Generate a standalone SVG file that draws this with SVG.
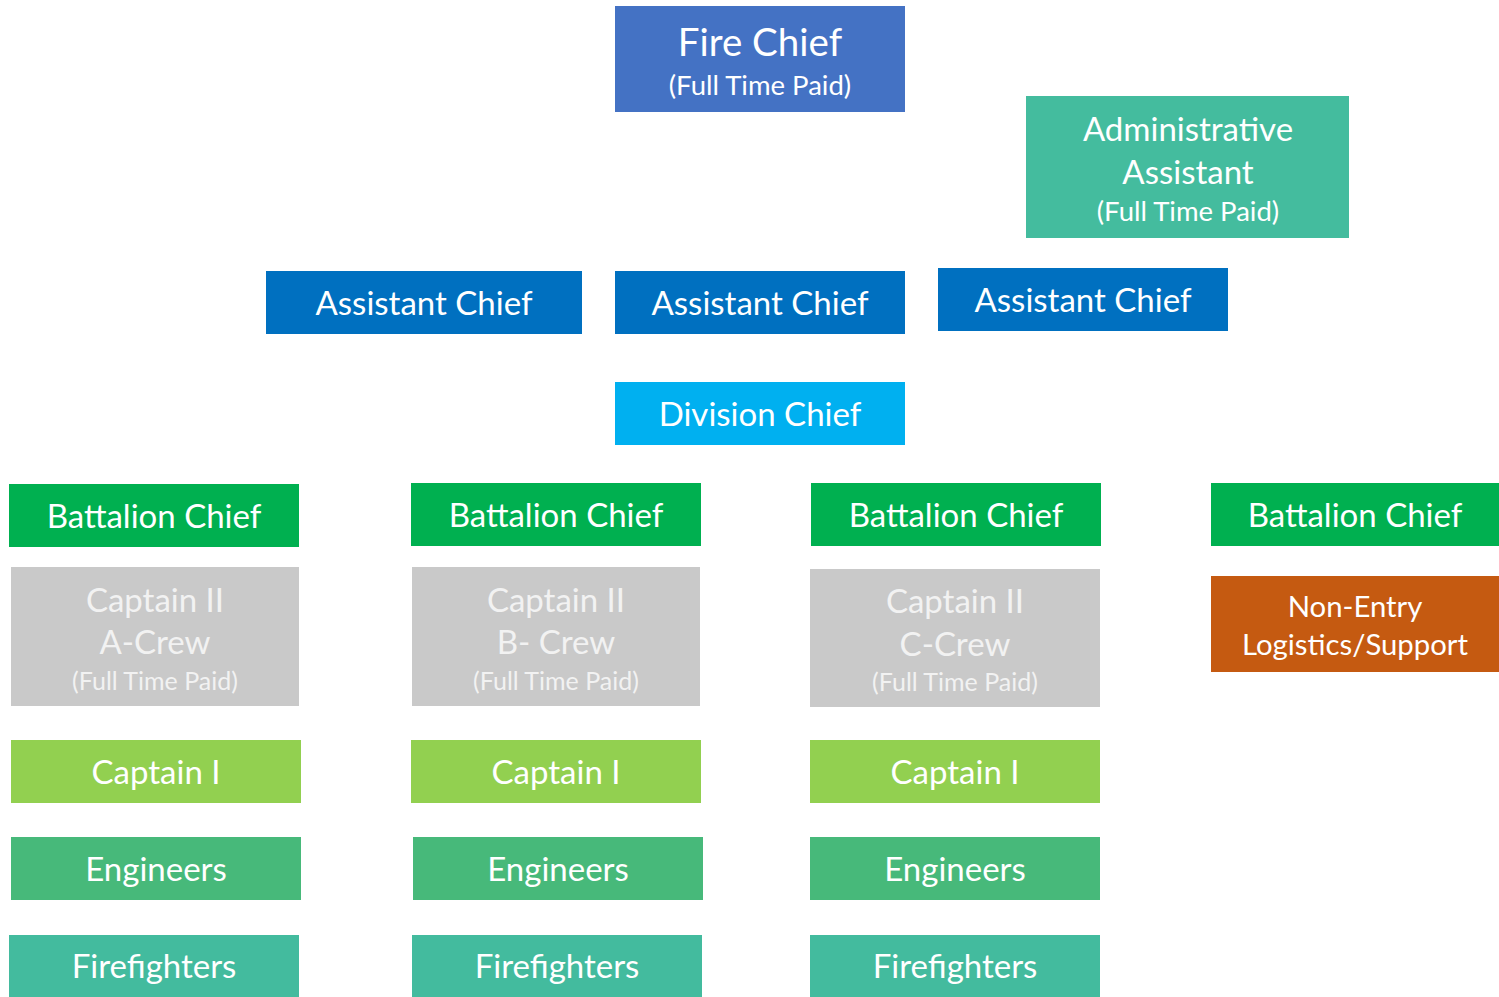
<svg xmlns="http://www.w3.org/2000/svg" width="1499" height="997" viewBox="0 0 1499 997">
<style>
text{font-family:Lato,"Open Sans","Liberation Sans",sans-serif;fill:#fff;text-anchor:middle;dominant-baseline:central}
.l{font-size:33px}
.s{font-size:27.5px}
.g text{fill:#f2f2f2}
.g .s{font-size:25px}
</style>
<rect width="1499" height="997" fill="#fff"/>
<g id="connectors"></g>
<g id="fire-chief"><rect x="615" y="6" width="290" height="106" fill="#4472C4"/><text x="760" y="41" font-size="38.5">Fire Chief</text><text x="760" y="84" class="s">(Full Time Paid)</text></g>
<g id="admin-assistant"><rect x="1026" y="96" width="323" height="142" fill="#44BC9E"/><text x="1188" y="128" class="l">Administrative</text><text x="1188" y="171" class="l">Assistant</text><text x="1188" y="210" class="s">(Full Time Paid)</text></g>
<g id="assistant-chief-1"><rect x="266" y="271" width="316" height="63" fill="#0070C0"/><text x="424" y="302" class="l">Assistant Chief</text></g>
<g id="assistant-chief-2"><rect x="615" y="271" width="290" height="63" fill="#0070C0"/><text x="760" y="302" class="l">Assistant Chief</text></g>
<g id="assistant-chief-3"><rect x="938" y="268" width="290" height="63" fill="#0070C0"/><text x="1083" y="299" class="l">Assistant Chief</text></g>
<g id="division-chief"><rect x="615" y="382" width="290" height="63" fill="#00B0F0"/><text x="760" y="413" class="l">Division Chief</text></g>
<g id="battalion-chief-1"><rect x="9" y="484" width="290" height="63" fill="#00B050"/><text x="154" y="515" class="l">Battalion Chief</text></g>
<g id="battalion-chief-2"><rect x="411" y="483" width="290" height="63" fill="#00B050"/><text x="556" y="514" class="l">Battalion Chief</text></g>
<g id="battalion-chief-3"><rect x="811" y="483" width="290" height="63" fill="#00B050"/><text x="956" y="514" class="l">Battalion Chief</text></g>
<g id="battalion-chief-4"><rect x="1211" y="483" width="288" height="63" fill="#00B050"/><text x="1355" y="514" class="l">Battalion Chief</text></g>
<g id="captain-ii-a" class="g"><rect x="11" y="567" width="288" height="139" fill="#C9C9C9"/><text x="155" y="599" class="l">Captain II</text><text x="155" y="641" class="l">A-Crew</text><text x="155" y="680" class="s">(Full Time Paid)</text></g>
<g id="captain-ii-b" class="g"><rect x="412" y="567" width="288" height="139" fill="#C9C9C9"/><text x="556" y="599" class="l">Captain II</text><text x="556" y="641" class="l">B- Crew</text><text x="556" y="680" class="s">(Full Time Paid)</text></g>
<g id="captain-ii-c" class="g"><rect x="810" y="569" width="290" height="138" fill="#C9C9C9"/><text x="955" y="600" class="l">Captain II</text><text x="955" y="643" class="l">C-Crew</text><text x="955" y="681" class="s">(Full Time Paid)</text></g>
<g id="non-entry"><rect x="1211" y="576" width="288" height="96" fill="#C55A11"/><text x="1355" y="605" font-size="29.3">Non-Entry</text><text x="1355" y="643" font-size="29.3">Logistics/Support</text></g>
<g id="captain-i-1"><rect x="11" y="740" width="290" height="63" fill="#92D050"/><text x="156" y="771" class="l">Captain I</text></g>
<g id="captain-i-2"><rect x="411" y="740" width="290" height="63" fill="#92D050"/><text x="556" y="771" class="l">Captain I</text></g>
<g id="captain-i-3"><rect x="810" y="740" width="290" height="63" fill="#92D050"/><text x="955" y="771" class="l">Captain I</text></g>
<g id="engineers-1"><rect x="11" y="837" width="290" height="63" fill="#47B97A"/><text x="156" y="868" class="l">Engineers</text></g>
<g id="engineers-2"><rect x="413" y="837" width="290" height="63" fill="#47B97A"/><text x="558" y="868" class="l">Engineers</text></g>
<g id="engineers-3"><rect x="810" y="837" width="290" height="63" fill="#47B97A"/><text x="955" y="868" class="l">Engineers</text></g>
<g id="firefighters-1"><rect x="9" y="935" width="290" height="62" fill="#43BB9E"/><text x="154" y="965" class="l">Firefighters</text></g>
<g id="firefighters-2"><rect x="412" y="935" width="290" height="62" fill="#43BB9E"/><text x="557" y="965" class="l">Firefighters</text></g>
<g id="firefighters-3"><rect x="810" y="935" width="290" height="62" fill="#43BB9E"/><text x="955" y="965" class="l">Firefighters</text></g>
</svg>
